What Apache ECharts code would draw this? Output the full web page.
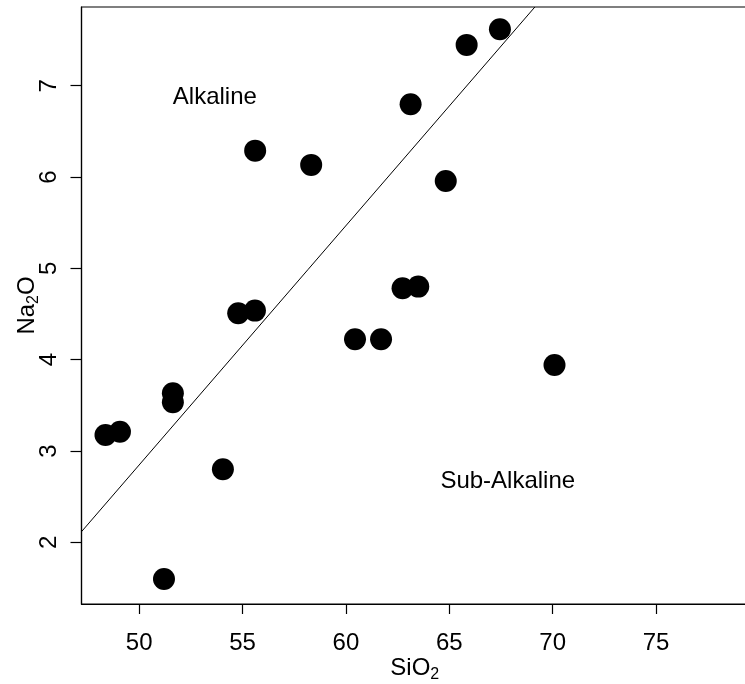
<!DOCTYPE html>
<html><head><meta charset="utf-8">
<script src="https://cdn.jsdelivr.net/npm/echarts@6/dist/echarts.min.js"></script>
<style>html,body{margin:0;padding:0;background:#fff}#c{width:745px;height:684px}</style>
</head><body><div id="c"></div>
<script>
var sio2 = [48.37, 49.07, 51.63, 51.63, 54.05, 54.79, 55.60, 62.74, 63.50, 60.44, 61.70, 70.09, 55.61, 58.32, 64.83, 65.84, 67.45, 63.13, 51.20];
var na2o = [3.175, 3.211, 3.632, 3.533, 2.80, 4.508, 4.537, 4.782, 4.80, 4.223, 4.223, 3.942, 6.289, 6.133, 5.957, 7.447, 7.619, 6.797, 1.598];
var lineX = [47.21, 69.14];
var lineY = [2.116, 7.862];
var xTicks = [50, 55, 60, 65, 70, 75];
var yTicks = [2, 3, 4, 5, 6, 7];
var labelText = ['Alkaline', 'Sub-Alkaline'];
var labelX = [53.66, 67.83];
var labelY = [6.877, 2.672];

var font = 'Liberation Sans, Arial, sans-serif';
var chart = echarts.init(document.getElementById('c'), null, {renderer: 'canvas'});
chart.setOption({
  animation: false,
  backgroundColor: '#fff',
  grid: {left: 81.5, top: 7, bottom: 80, right: -3, show: true, borderColor: '#000', borderWidth: 1.2,
    containLabel: false, outerBoundsMode: 'none'},
  xAxis: {
    type: 'value', min: 47.21, max: 79.45,
    splitLine: {show: false},
    axisLine: {show: true, onZero: false, lineStyle: {color: '#000', width: 1.2}},
    axisTick: {show: true, inside: false, length: 10, customValues: xTicks, lineStyle: {color: '#000', width: 1.2}},
    axisLabel: {customValues: xTicks, margin: 27, color: '#000', fontSize: 24, fontFamily: font},
    name: 'SiO{sub|2}', nameLocation: 'middle', nameGap: 50, nameMoveOverlap: false,
    nameTextStyle: {color: '#000', fontSize: 24, fontFamily: font,
      rich: {sub: {fontSize: 16, fontFamily: font, color: '#000', padding: [13, 0, 0, 0]}}}
  },
  yAxis: {
    type: 'value', min: 1.324, max: 7.862,
    splitLine: {show: false},
    axisLine: {show: true, onZero: false, lineStyle: {color: '#000', width: 1.2}},
    axisTick: {show: true, length: 11, customValues: yTicks, lineStyle: {color: '#000', width: 1.2}},
    axisLabel: {customValues: yTicks, rotate: 90, margin: 20, color: '#000', fontSize: 24, fontFamily: font},
    name: 'Na{sub|2}O', nameLocation: 'middle', nameGap: 40, nameRotate: 90, nameMoveOverlap: false,
    nameTextStyle: {color: '#000', fontSize: 24, fontFamily: font,
      rich: {sub: {fontSize: 16, fontFamily: font, color: '#000', padding: [13, 0, 0, 0]}}}
  },
  series: [
    {
      type: 'line', data: lineX.map(function (x, i) { return [x, lineY[i]]; }),
      symbol: 'none', lineStyle: {color: '#000', width: 1, opacity: 1}, silent: true, clip: true
    },
    {
      type: 'scatter', symbol: 'circle', symbolSize: 22,
      itemStyle: {color: '#000', opacity: 1},
      data: sio2.map(function (x, i) { return [x, na2o[i]]; })
    },
    {
      type: 'scatter', symbolSize: 0, itemStyle: {opacity: 1},
      label: {show: true, position: 'inside', color: '#000', opacity: 1, fontSize: 24, fontFamily: font,
        formatter: function (p) { return p.data[2]; }},
      data: labelX.map(function (x, i) { return [x, labelY[i], labelText[i]]; })
    }
  ]
});
</script></body></html>
